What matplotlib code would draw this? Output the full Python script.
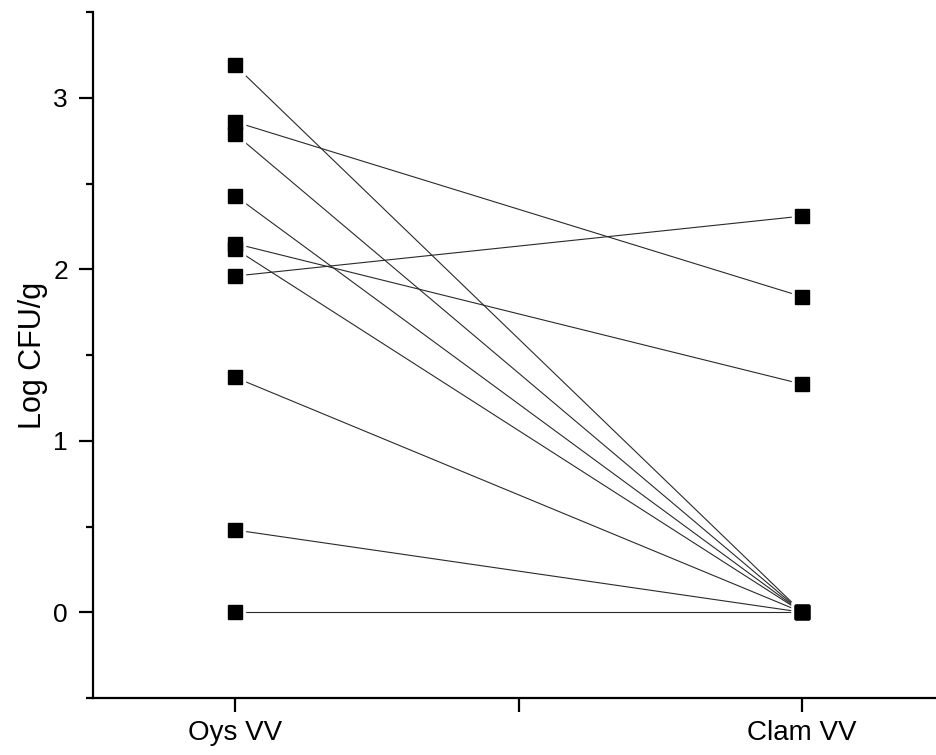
import numpy as np
import matplotlib.pyplot as plt
from matplotlib.ticker import MultipleLocator

plt.rcParams['font.family'] = ['Liberation Sans', 'DejaVu Sans']

groups = ["Oys VV", "Clam VV"]
oys = [3.19, 2.86, 2.79, 2.43, 2.15, 2.12, 1.96, 1.37, 0.48, 0.0]
clam = [0.0, 1.84, 0.0, 0.0, 1.33, 0.0, 2.31, 0.0, 0.0, 0.0]

fig = plt.figure(figsize=(9.37, 7.55), dpi=100)
ax = fig.add_axes([93/937, 1-698/755, (944-93)/937, (698-12)/755])

for a, b in zip(oys, clam):
    ax.plot([1, 2], [a, b], color='#2a2a2a', lw=0.8, zorder=1)

# white halo so lines stop short of the markers
ax.plot([1]*len(oys), oys, 's', ms=14, color='white', ls='none', zorder=2)
ax.plot([2]*len(clam), clam, 's', ms=14, color='white', ls='none', zorder=2)
ax.plot([1]*len(oys), oys, 's', ms=10, color='black', ls='none', zorder=3)
ax.plot([2]*len(clam), clam, 's', ms=10, color='black', ls='none', zorder=3)

ax.set_xlim(0.75, 2.25)
ax.set_ylim(-0.5, 3.5)
ax.set_xticks([1, 1.5, 2])
ax.set_xticklabels([groups[0], "", groups[1]])
ax.set_yticks([0, 1, 2, 3])
ax.yaxis.set_minor_locator(MultipleLocator(0.5))

ax.spines['top'].set_visible(False)
ax.spines['right'].set_visible(False)
for s in ['left', 'bottom']:
    ax.spines[s].set_linewidth(1.6)
ax.tick_params(axis='both', which='major', direction='out', length=10, width=1.6, labelsize=19)
ax.tick_params(axis='x', which='major', pad=6, labelsize=20)
ax.tick_params(axis='y', which='major', pad=8)
ax.tick_params(axis='y', which='minor', direction='out', length=5, width=1.6)
ax.set_ylabel("Log CFU/g", fontsize=22, labelpad=4)

fig.savefig("out.png", dpi=100)
